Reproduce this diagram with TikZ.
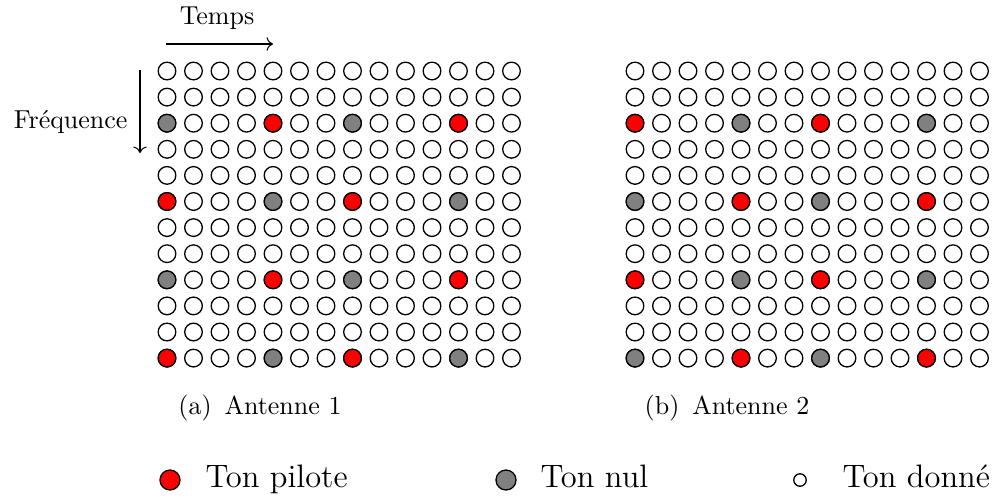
\documentclass[tikz,border=0pt]{standalone}
\usetikzlibrary{arrows.meta}
\begin{document}
\begin{tikzpicture}[x=0.385pt,y=-0.385pt,
  tone/.style={circle,draw=black,line width=0.5pt,minimum size=6.8pt,inner sep=0pt},
  pilot/.style={tone,fill=red},
  nul/.style={tone,fill=gray},
  lbl/.style={inner sep=0pt,anchor=base west,font=\fontsize{12.5}{15}\selectfont},
  axarrow/.style={->,line width=0.4pt}]
\useasboundingbox (0,0) rectangle (995,497);
% grids
\foreach \g/\xo in {L/167,R/635}{
  \foreach \r in {0,...,11}{
    \foreach \c in {0,...,13}{
      \node[tone] (\g-\r-\c) at ({\xo+\c*26.5},{71+\r*26.1}) {};
    }
  }
}
% left panel special tones
\foreach \r/\a/\b in {2/nul/pilot,5/pilot/nul,8/nul/pilot,11/pilot/nul}{
  \foreach \c in {0,7}{\node[\a] at (L-\r-\c) {};}
  \foreach \c in {4,11}{\node[\b] at (L-\r-\c) {};}
}
% right panel special tones
\foreach \r/\a/\b in {2/pilot/nul,5/nul/pilot,8/pilot/nul,11/nul/pilot}{
  \foreach \c in {0,7}{\node[\a] at (R-\r-\c) {};}
  \foreach \c in {4,11}{\node[\b] at (R-\r-\c) {};}
}
% axes
\coordinate (ts) at (166,44);
\coordinate (te) at (273,44);
\draw[axarrow] (ts) -- (te);
\node (temps) at (217,18) {Temps};
\coordinate (fs) at (140,70);
\coordinate (fe) at (140,153);
\draw[axarrow] (fs) -- (fe);
\node[anchor=east,inner sep=0pt] (freq) at (128,122) {Fréquence};
% captions
\node (capa) at (260,408) {(a)\enspace Antenne 1};
\node (capb) at (727,408) {(b)\enspace Antenne 2};
% legend
\node[pilot,minimum size=7.7pt] (lp) at (170,480) {};
\node[lbl] (tp) at (205,487) {Ton pilote};
\node[nul,minimum size=7.7pt] (ln) at (506,480) {};
\node[lbl] (tn) at (540,487) {Ton nul};
\node[tone,minimum size=4.8pt] (ld) at (800,480) {};
\node[lbl] (td) at (842,487) {Ton donné};
\end{tikzpicture}
\end{document}
